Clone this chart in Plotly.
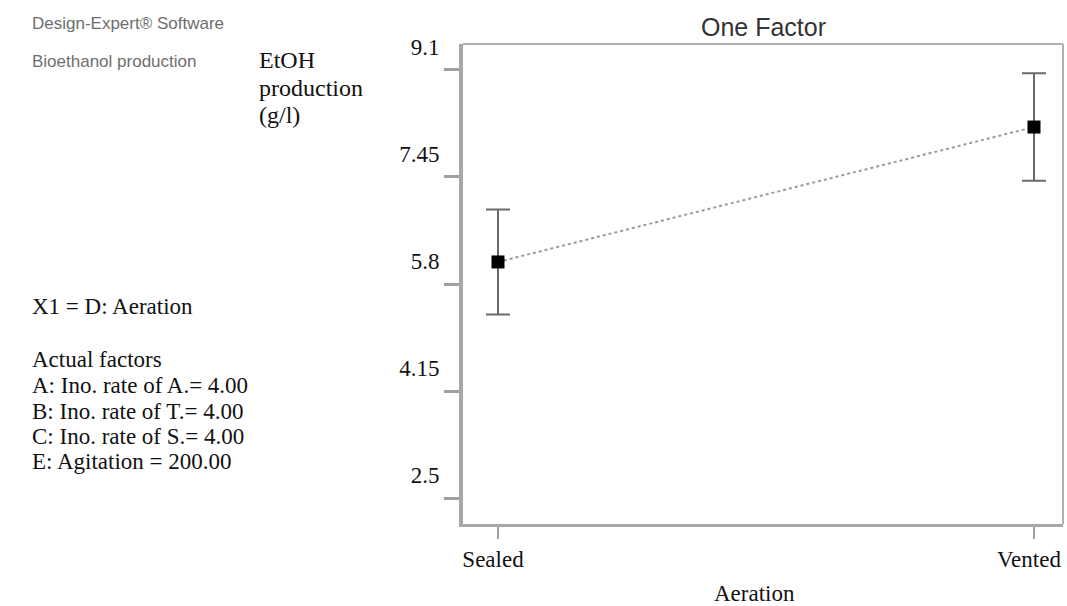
import plotly.graph_objects as go

# ---- data ----
categories = ["Sealed", "Vented"]
x_pos = [0, 1]
mean_etoh = [6.14, 8.22]
err_etoh = [0.81, 0.83]
y_ticks = [2.5, 4.15, 5.8, 7.45, 9.1]
y_ticklabels = ["2.5", "4.15", "5.8", "7.45", "9.1"]
left_header = ["Design-Expert\u00ae Software", "Bioethanol production"]
left_lines = ["X1 = D: Aeration", "Actual factors", "A: Ino. rate of A.= 4.00",
              "B: Ino. rate of T.= 4.00", "C: Ino. rate of S.= 4.00", "E: Agitation = 200.00"]
ylabel_lines = ["EtOH", "production", "(g/l)"]

W, H = 1067, 606
L, R, T, B = 463, 1063, 44, 524

def px_x(px):
    return (px - L) / (R - L)

def px_y(py):
    return (B - py) / (B - T)

serif = "Liberation Serif, Times New Roman, serif"
sans = "Liberation Sans, Arial, sans-serif"

fig = go.Figure()
fig.add_trace(go.Scatter(
    x=x_pos, y=mean_etoh, mode="lines",
    line=dict(color="#9a9a9a", width=2, dash="dot"),
    hoverinfo="skip", showlegend=False))
fig.add_trace(go.Scatter(
    x=x_pos, y=mean_etoh, mode="markers",
    marker=dict(symbol="square", size=13, color="#000000"),
    error_y=dict(type="data", array=err_etoh, visible=True,
                 color="#6a6a6a", thickness=2, width=12),
    showlegend=False))

annotations = []
annotations.append(dict(text="One Factor", x=0.5, y=px_y(27), xref="paper", yref="paper",
                        xanchor="center", yanchor="middle", showarrow=False,
                        font=dict(family=sans, size=25, color="#333333")))
for txt, cy in zip(left_header, [24, 62]):
    annotations.append(dict(text=txt, x=px_x(30), y=px_y(cy), xref="paper", yref="paper",
                            xanchor="left", yanchor="middle", showarrow=False,
                            font=dict(family=sans, size=17, color="#6e6e6e")))
for txt, cy in zip(left_lines, [306, 359, 385, 411, 436, 461]):
    annotations.append(dict(text=txt, x=px_x(30), y=px_y(cy), xref="paper", yref="paper",
                            xanchor="left", yanchor="middle", showarrow=False,
                            font=dict(family=serif, size=23, color="#111111")))
for txt, cy in zip(ylabel_lines, [60, 88, 115]):
    annotations.append(dict(text=txt, x=px_x(257), y=px_y(cy), xref="paper", yref="paper",
                            xanchor="left", yanchor="middle", showarrow=False,
                            font=dict(family=serif, size=24, color="#111111")))
annotations.append(dict(text="Aeration", x=px_x(754), y=px_y(593), xref="paper", yref="paper",
                        xanchor="center", yanchor="middle", showarrow=False,
                        font=dict(family=serif, size=23, color="#111111")))

fig.update_layout(
    width=W, height=H,
    margin=dict(l=L, r=W - R, t=T, b=H - B, pad=0),
    paper_bgcolor="white", plot_bgcolor="white",
    annotations=annotations,
    shapes=[
        dict(type="line", xref="paper", yref="paper", x0=0, x1=1, y0=1, y1=1,
             line=dict(color="#b0b0b0", width=2)),
        dict(type="line", xref="paper", yref="paper", x0=1, x1=1, y0=0, y1=1,
             line=dict(color="#b0b0b0", width=2)),
    ],
)
fig.update_xaxes(
    range=[-35 / 536, 1 + 29 / 536], tickvals=x_pos, ticktext=categories,
    showgrid=False, zeroline=False, showline=True, linecolor="#a8a8a8", linewidth=3,
    ticks="outside", ticklen=12, tickwidth=2, tickcolor="#a0a0a0",
    ticklabelshift=-5,
    tickfont=dict(family=serif, size=23, color="#111111"),
)
fig.update_yaxes(
    range=[2.1, 9.5], tickvals=y_ticks, ticktext=y_ticklabels,
    showgrid=False, zeroline=False, showline=True, linecolor="#a8a8a8", linewidth=4,
    ticks="outside", ticklen=15, tickwidth=3, tickcolor="#a0a0a0",
    ticklabelshift=-23,
    tickfont=dict(family=serif, size=23, color="#111111"),
)

fig.write_html("out.html", config={"displayModeBar": False},
               post_script="document.body.style.margin='0';document.body.style.overflow='hidden';")
